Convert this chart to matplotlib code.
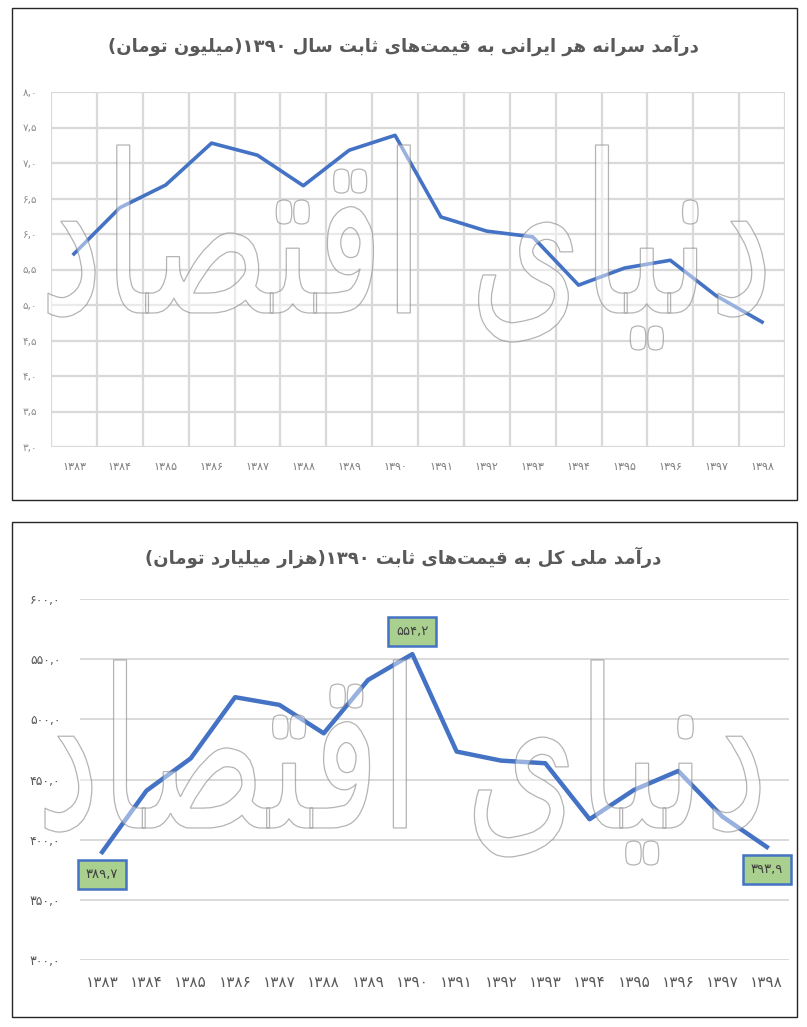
import matplotlib
matplotlib.use('Agg')
import matplotlib.pyplot as plt
import numpy as np
from matplotlib.patches import Rectangle, PathPatch
from matplotlib.textpath import TextPath
from matplotlib.path import Path
from matplotlib.font_manager import FontProperties
from matplotlib.transforms import Affine2D
from matplotlib.ticker import FuncFormatter, MultipleLocator

# ---------------- data ----------------
years = ['1383', '1384', '1385', '1386', '1387', '1388', '1389', '1390',
         '1391', '1392', '1393', '1394', '1395', '1396', '1397', '1398']
per_capita = [5.72, 6.37, 6.69, 7.28, 7.11, 6.68, 7.18, 7.39,
              6.24, 6.04, 5.96, 5.28, 5.52, 5.63, 5.13, 4.76]
national = [389.7, 440.7, 467.6, 518.4, 512.0, 488.4, 532.7, 554.2,
            473.2, 465.7, 463.5, 417.0, 441.3, 457.1, 419.1, 393.9]
labeled_idx = [0, 7, 15]
title_top = 'درآمد سرانه هر ایرانی به قیمت‌های ثابت سال ۱۳۹۰(میلیون تومان)'
title_bottom = 'درآمد ملی کل به قیمت‌های ثابت ۱۳۹۰(هزار میلیارد تومان)'
watermark = 'دنیای اقتصاد'

# ---------------- Persian helpers ----------------
FA_DIGITS = str.maketrans('0123456789', '۰۱۲۳۴۵۶۷۸۹')
DIGITS = set('0123456789۰۱۲۳۴۵۶۷۸۹٫,.')

def fa(s):
    return str(s).translate(FA_DIGITS)

FORMS = {
    '\u0627': ('\uFE8D', '\uFE8E', None, None),
    '\u0622': ('\uFE81', '\uFE82', None, None),
    '\u0628': ('\uFE8F', '\uFE90', '\uFE91', '\uFE92'),
    '\u062A': ('\uFE95', '\uFE96', '\uFE97', '\uFE98'),
    '\u062B': ('\uFE99', '\uFE9A', '\uFE9B', '\uFE9C'),
    '\u062F': ('\uFEA9', '\uFEAA', None, None),
    '\u0631': ('\uFEAD', '\uFEAE', None, None),
    '\u0632': ('\uFEAF', '\uFEB0', None, None),
    '\u0633': ('\uFEB1', '\uFEB2', '\uFEB3', '\uFEB4'),
    '\u0635': ('\uFEB9', '\uFEBA', '\uFEBB', '\uFEBC'),
    '\u0641': ('\uFED1', '\uFED2', '\uFED3', '\uFED4'),
    '\u0642': ('\uFED5', '\uFED6', '\uFED7', '\uFED8'),
    '\u0644': ('\uFEDD', '\uFEDE', '\uFEDF', '\uFEE0'),
    '\u0645': ('\uFEE1', '\uFEE2', '\uFEE3', '\uFEE4'),
    '\u0646': ('\uFEE5', '\uFEE6', '\uFEE7', '\uFEE8'),
    '\u0647': ('\uFEE9', '\uFEEA', '\uFEEB', '\uFEEC'),
    '\u0648': ('\uFEED', '\uFEEE', None, None),
    '\u06CC': ('\uFBFC', '\uFBFD', '\uFBFE', '\uFBFF'),
    '\u06A9': ('\uFB8E', '\uFB8F', '\uFB90', '\uFB91'),
}

def shape(text):
    text = text.replace('\u064A', '\u06CC').replace('\u0643', '\u06A9')
    chars = list(text)
    out = []
    for i, c in enumerate(chars):
        if c == '\u200c':
            continue
        if c not in FORMS:
            out.append(c)
            continue
        f = FORMS[c]
        prev = chars[i - 1] if i > 0 else ''
        nxt = chars[i + 1] if i + 1 < len(chars) else ''
        jp = prev in FORMS and FORMS[prev][2] is not None
        jn = f[2] is not None and nxt in FORMS
        if jp and jn:
            out.append(f[3])
        elif jp:
            out.append(f[1])
        elif jn:
            out.append(f[2])
        else:
            out.append(f[0])
    rev = out[::-1]
    mirror = {'(': ')', ')': '('}
    rev = [mirror.get(c, c) for c in rev]
    res = []
    i = 0
    while i < len(rev):
        if rev[i] in DIGITS:
            j = i
            while j < len(rev) and rev[j] in DIGITS:
                j += 1
            res.extend(rev[i:j][::-1])
            i = j
        else:
            res.append(rev[i])
            i += 1
    return ''.join(res)

def fmt1(v, pos=None):
    return fa(f'{v:.1f}').replace('.', ',')

# ---------------- figure ----------------
W, H = 807, 1027
fig = plt.figure(figsize=(W / 100, H / 100), dpi=100)
fig.patch.set_facecolor('white')

def fx(px):
    return px / W

def fy(py):
    return 1 - py / H

for (x0, y0, x1, y1) in [(12, 8, 797, 500), (12, 522, 797, 1017)]:
    fig.patches.append(Rectangle((fx(x0), fy(y1)), fx(x1) - fx(x0), fy(y0) - fy(y1),
                                 transform=fig.transFigure, fill=False,
                                 edgecolor='#262626', linewidth=1.0, zorder=6))

def watermark_path():
    tp = TextPath((0, 0), shape(watermark), size=100,
                  prop=FontProperties(family='DejaVu Sans'))
    polys = tp.to_polygons()
    full_h = tp.get_extents().height
    boxes = [(p[:, 0].min(), p[:, 0].max(), p[:, 1].min(), p[:, 1].max()) for p in polys]
    paths = []
    for k, p in enumerate(polys):
        x0, x1, y0, y1 = boxes[k]
        w, h = x1 - x0, y1 - y0
        cx, cy = (x0 + x1) / 2, (y0 + y1) / 2
        inside = any(j != k and b[0] < cx < b[1] and b[2] < cy < b[3]
                     and (b[1] - b[0]) > w for j, b in enumerate(boxes))
        if w < 0.2 * full_h and h < 0.2 * full_h and not inside:
            r = 0.85 * max(w, h)
            t = np.linspace(0, 2 * np.pi, 41)
            dx = r * np.sign(np.cos(t)) * np.abs(np.cos(t)) ** 1.4
            dy = r * np.sign(np.sin(t)) * np.abs(np.sin(t)) ** 1.4
            ang = np.pi / 4
            rx = dx * np.cos(ang) - dy * np.sin(ang)
            ry = dx * np.sin(ang) + dy * np.cos(ang)
            p = np.column_stack([cx + rx, cy + ry])
        paths.append(Path(p, closed=True))
    return Path.make_compound_path(*paths)

WM = watermark_path()

def add_watermark(x0, y0, x1, y1):
    ext = WM.get_extents()
    sx = (fx(x1) - fx(x0)) / ext.width
    sy = (fy(y0) - fy(y1)) / ext.height
    tr = (Affine2D().translate(-ext.x0, -ext.y0).scale(sx, sy)
          .translate(fx(x0), fy(y1)) + fig.transFigure)
    pp = PathPatch(WM, transform=tr, facecolor=(1, 1, 1, 0.45),
                   edgecolor=(0.55, 0.55, 0.55, 0.65), linewidth=0.9, zorder=5)
    fig.patches.append(pp)

line_col = '#4472C4'
grid_col = '#D9D9D9'
x = list(range(len(years)))
xlabels = [fa(y) for y in years]

# ---------- top chart ----------
ax1 = fig.add_axes([fx(51), fy(447), fx(785) - fx(51), fy(92) - fy(447)])
ax1.plot(x, per_capita, color=line_col, linewidth=2.6, solid_joinstyle='round', zorder=3)
ax1.set_xlim(-0.5, len(years) - 0.5)
ax1.set_ylim(3.0, 8.0)
ax1.yaxis.set_major_locator(MultipleLocator(0.5))
ax1.yaxis.set_major_formatter(FuncFormatter(fmt1))
ax1.set_xticks(x)
ax1.set_xticklabels(xlabels)
ax1.set_xticks([i - 0.5 for i in range(len(years) + 1)], minor=True)
ax1.grid(True, which='major', axis='y', color=grid_col, linewidth=1.6)
ax1.grid(True, which='minor', axis='x', color=grid_col, linewidth=1.6)
ax1.set_axisbelow(True)
for s in ax1.spines.values():
    s.set_visible(False)
ax1.tick_params(axis='both', which='both', length=0)
ax1.tick_params(axis='y', labelsize=7.5, labelcolor='#8C8C8C', pad=10)
ax1.tick_params(axis='x', labelsize=8, labelcolor='#7F7F7F', pad=11)
fig.text(0.5, fy(45), shape(title_top), ha='center', va='center',
         fontsize=13, fontweight='bold', color='#595959', family='DejaVu Sans')
add_watermark(48, 145, 765, 350)

# ---------- bottom chart ----------
ax2 = fig.add_axes([fx(80), fy(960), fx(789) - fx(80), fy(599) - fy(960)])
ax2.plot(x, national, color=line_col, linewidth=3.2, solid_joinstyle='round', zorder=3)
ax2.set_xlim(-0.5, len(years) - 0.5)
ax2.set_ylim(300, 600)
ax2.yaxis.set_major_locator(MultipleLocator(50))
ax2.yaxis.set_major_formatter(FuncFormatter(fmt1))
ax2.set_xticks(x)
ax2.set_xticklabels(xlabels)
ax2.grid(True, axis='y', color=grid_col, linewidth=1.4)
ax2.set_axisbelow(True)
for s in ax2.spines.values():
    s.set_visible(False)
ax2.tick_params(axis='both', which='both', length=0)
ax2.tick_params(axis='y', labelsize=9, labelcolor='#595959', pad=14)
ax2.tick_params(axis='x', labelsize=11, labelcolor='#595959', pad=11)
fig.text(0.5, fy(557), shape(title_bottom), ha='center', va='center',
         fontsize=13, fontweight='bold', color='#595959', family='DejaVu Sans')
add_watermark(45, 660, 760, 865)

for i in labeled_idx:
    off = 16 if i == 7 else -16
    ax2.annotate(fmt1(national[i]), (x[i], national[i]), xytext=(0, off),
                 textcoords='offset points', ha='center', va='center',
                 fontsize=9.5, color='#404040',
                 bbox=dict(boxstyle='square,pad=0.6', facecolor='#A9D08E',
                           edgecolor=line_col, linewidth=1.8), zorder=7)

fig.savefig('out.png', dpi=100, facecolor='white')
